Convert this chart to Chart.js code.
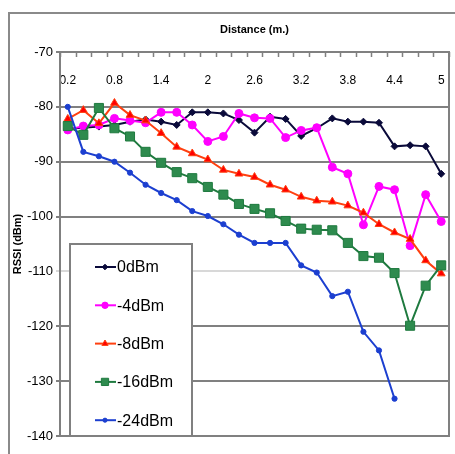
<!DOCTYPE html>
<html>
<head>
<meta charset="utf-8">
<title>RSSI vs distance</title>
<script src="https://cdn.jsdelivr.net/npm/chart.js@4.4.1/dist/chart.umd.min.js"></script>
<style>
  html, body { margin: 0; padding: 0; background: #fff; }
  #wrap { position: relative; width: 455px; height: 454px; overflow: hidden; }
  #frame { position: absolute; left: 8px; top: 12px; width: 480px; height: 480px;
           border-left: 2px solid #8a8a8a; border-top: 2px solid #8a8a8a; pointer-events: none; }
</style>
</head>
<body>
<div id="wrap">
  <canvas id="rssiChart" width="455" height="454"></canvas>
  <div id="frame"></div>
</div>
<script>
// distancias (m) y RSSI medido por potencia de transmisión
const distances = ['0.2', '0.4', '0.6', '0.8', '1', '1.2', '1.4', '1.6', '1.8', '2', '2.2', '2.4',
                   '2.6', '2.8', '3', '3.2', '3.4', '3.6', '3.8', '4', '4.2', '4.4', '4.6', '4.8', '5'];

const rssi0 = [-84, -83.8, -83.6, -83.3, -82.7, -82.3, -82.7, -83.3, -81, -81, -81.2, -82.4,
               -84.7, -81.8, -82.2, -85.3, -83.9, -82.1, -82.7, -82.7, -82.9, -87.2, -87, -87.2, -92.2];
const rssi4 = [-84.2, -83.5, -83.3, -82.1, -82.5, -82.9, -81, -81, -83.3, -86.3, -85.4, -81.2,
               -82, -82.1, -85.6, -84.3, -83.8, -91, -92.2, -101.5, -94.5, -95.1, -105.3, -96, -100.9];
const rssi8 = [-82.2, -80.6, -83, -79.3, -81.5, -82.5, -84.8, -87.3, -88.5, -89.6, -91.5, -92.2,
               -92.8, -94.2, -95.1, -96.4, -97.1, -97.3, -98, -99.3, -101.4, -102.9, -104.1, -108, -110.4];
const rssi16 = [-83.5, -85.1, -80.2, -83.9, -85.4, -88.2, -90.2, -91.9, -93, -94.6, -96, -97.7,
                -98.6, -99.4, -100.8, -102.2, -102.4, -102.5, -104.8, -107.2, -107.5, -110.3, -119.9, -112.6, -108.9];
const rssi24 = [-80, -88.2, -89, -90, -92, -94.2, -95.7, -97, -99, -99.9, -101.4, -103.3,
                -104.8, -104.8, -104.8, -108.9, -110.2, -114.5, -113.7, -121, -124.4, -133.2];

const yTicks = [-140, -130, -120, -110, -100, -90, -80, -70];

const FONT = "'Liberation Sans', Arial, sans-serif";
const GRID = '#808080';

// marco del área de trazado y marcas cortas del eje superior
const plotFrame = {
  id: 'plotFrame',
  beforeDatasetsDraw(chart) {
    const { ctx, chartArea: a } = chart;
    const xs = chart.scales.x;
    const step = xs.getPixelForValue(1) - xs.getPixelForValue(0);
    ctx.save();
    ctx.strokeStyle = GRID;
    ctx.lineWidth = 2;
    ctx.strokeRect(a.left, a.top, a.right - a.left, a.bottom - a.top);
    ctx.lineWidth = 1.5;
    ctx.beginPath();
    for (let i = 0; i <= distances.length; i++) {
      const px = Math.round(xs.getPixelForValue(i) - step / 2) + 0.5;
      ctx.moveTo(px, a.top);
      ctx.lineTo(px, a.top + 5);
    }
    ctx.stroke();
    ctx.restore();
  }
};

// leyenda con recuadro dentro del gráfico
const boxLegend = {
  id: 'boxLegend',
  afterDatasetsDraw(chart) {
    const { ctx, chartArea: a } = chart;
    const left = a.left + 10, top = a.top + 192;
    const w = 122, h = a.bottom - top;
    ctx.save();
    ctx.fillStyle = '#fff';
    ctx.fillRect(left, top, w, h);
    ctx.strokeStyle = GRID;
    ctx.lineWidth = 2;
    ctx.strokeRect(left, top, w, h);
    ctx.font = '16px ' + FONT;
    ctx.textBaseline = 'middle';
    chart.data.datasets.forEach((ds, i) => {
      const y = top + 23 + i * 38.3;
      ctx.strokeStyle = ds.borderColor;
      ctx.lineWidth = 2;
      ctx.beginPath();
      ctx.moveTo(left + 25, y);
      ctx.lineTo(left + 46, y);
      ctx.stroke();
      ctx.fillStyle = ds.pointBackgroundColor;
      ctx.strokeStyle = ds.pointBorderColor;
      ctx.lineWidth = 1;
      Chart.helpers.drawPoint(ctx, { pointStyle: ds.pointStyle, radius: ds.pointRadius * 0.8, rotation: 0, borderWidth: 1 }, left + 35, y);
      ctx.fillStyle = '#000';
      ctx.fillText(ds.label, left + 47, y + 1);
    });
    ctx.restore();
  }
};

const series = [
  { label: '0dBm', data: rssi0, line: '#0a0a3a', fill: '#0a0a3a', style: 'rectRot', r: 3.5 },
  { label: '-4dBm', data: rssi4, line: '#ff00ff', fill: '#ff00ff', style: 'circle', r: 4 },
  { label: '-8dBm', data: rssi8, line: '#ff4010', fill: '#ff0000', style: 'triangle', r: 4.5 },
  { label: '-16dBm', data: rssi16, line: '#1f7a3f', fill: '#2e8b4e', style: 'rect', r: 6.4 },
  { label: '-24dBm', data: rssi24, line: '#1c3fd0', fill: '#1c3fd0', style: 'circle', r: 2.6 }
];

const ctx = document.getElementById('rssiChart').getContext('2d');
new Chart(ctx, {
  type: 'line',
  data: {
    labels: distances,
    datasets: series.map((s, i) => ({
      label: s.label,
      data: s.data,
      borderColor: s.line,
      borderWidth: 2,
      pointStyle: s.style,
      pointRadius: s.r,
      pointBackgroundColor: s.fill,
      pointBorderColor: s.line,
      pointBorderWidth: 1,
      tension: 0,
      fill: false,
      order: series.length - i
    }))
  },
  options: {
    responsive: false,
    animation: false,
    events: [],
    layout: { autoPadding: false, padding: { top: 0, left: 0, right: 6, bottom: 18 } },
    plugins: { legend: { display: false }, tooltip: { enabled: false } },
    scales: {
      x: {
        type: 'category',
        position: 'top',
        offset: true,
        z: 1,
        grid: { display: false, drawTicks: false },
        border: { display: false },
        ticks: {
          autoSkip: false,
          maxRotation: 0,
          mirror: true,
          padding: 21,
          color: '#000',
          font: { family: FONT, size: 12 },
          callback: (v, i) => (i % 3 === 0 ? distances[i] : '')
        },
        title: {
          display: true,
          text: 'Distance (m.)',
          color: '#000',
          font: { family: FONT, size: 11, weight: 'bold' },
          padding: { top: 23, bottom: 0 }
        },
        afterFit: s => {
          s.height = 52;
          s.paddingLeft = 0;
          s.paddingRight = 0;
        }
      },
      y: {
        min: -140,
        max: -70,
        afterBuildTicks: s => { s.ticks = yTicks.map(v => ({ value: v })); },
        ticks: { padding: 3, color: '#000', font: { family: FONT, size: 13 } },
        grid: {
          color: c => (c.tick && c.tick.value === -110 ? '#d8d8d8' : GRID),
          lineWidth: 2,
          tickLength: 4
        },
        border: { color: GRID, width: 2 },
        title: {
          display: true,
          text: 'RSSI (dBm)',
          color: '#000',
          font: { family: FONT, size: 11, weight: 'bold' },
          padding: { top: 11, bottom: 0 }
        },
        afterFit: s => { s.width = 60; }
      }
    }
  },
  plugins: [plotFrame, boxLegend]
});
</script>
</body>
</html>
